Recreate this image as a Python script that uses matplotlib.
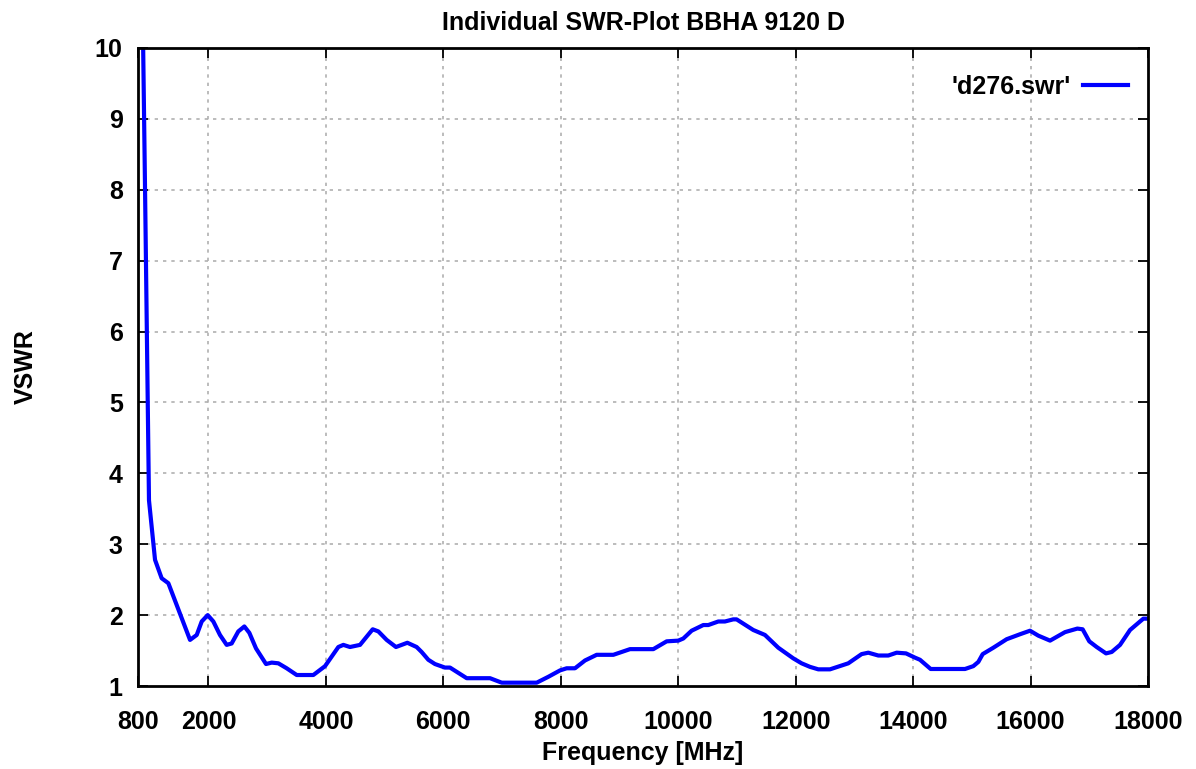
import numpy as np
import matplotlib.pyplot as plt

plt.rcParams['font.family'] = ['Liberation Sans', 'DejaVu Sans']
plt.rcParams['font.weight'] = 'bold'

freq = [880, 920, 987, 1090, 1203, 1317, 1686, 1800, 1885, 1987,
        2083, 2196, 2310, 2395, 2508, 2611, 2696, 2810, 2980, 3077,
        3190, 3332, 3503, 3786, 3985, 4212, 4297, 4410, 4581, 4797,
        4893, 5035, 5193, 5387, 5545, 5630, 5744, 5857, 6027, 6113,
        6398, 6795, 6994, 7590, 7788, 7987, 8100, 8242, 8412, 8611,
        8895, 9179, 9576, 9803, 10001, 10086, 10228, 10427, 10512, 10682,
        10795, 10937, 10994, 11278, 11477, 11704, 11959, 12101, 12244, 12385,
        12584, 12896, 13123, 13237, 13407, 13577, 13720, 13879, 14032, 14117,
        14299, 14884, 15025, 15111, 15185, 15366, 15593, 15820, 15991, 16133,
        16332, 16587, 16797, 16887, 17000, 17126, 17285, 17382, 17524, 17694,
        17864, 17921, 18000]
vswr = [10.5, 8.0, 3.62, 2.78, 2.52, 2.45, 1.65, 1.72, 1.91, 2.0,
        1.91, 1.72, 1.58, 1.60, 1.77, 1.84, 1.75, 1.53, 1.31, 1.33,
        1.32, 1.25, 1.155, 1.155, 1.28, 1.55, 1.58, 1.55, 1.58, 1.80,
        1.77, 1.65, 1.55, 1.61, 1.55, 1.48, 1.37, 1.31, 1.26, 1.26,
        1.11, 1.11, 1.047, 1.047, 1.13, 1.22, 1.25, 1.25, 1.36, 1.44,
        1.44, 1.52, 1.52, 1.63, 1.64, 1.67, 1.78, 1.86, 1.86, 1.91,
        1.91, 1.94, 1.94, 1.79, 1.72, 1.54, 1.39, 1.32, 1.27, 1.235,
        1.235, 1.32, 1.45, 1.47, 1.43, 1.43, 1.47, 1.46, 1.40, 1.37,
        1.24, 1.24, 1.28, 1.34, 1.45, 1.54, 1.66, 1.73, 1.78, 1.71,
        1.64, 1.76, 1.81, 1.80, 1.63, 1.55, 1.46, 1.48, 1.58, 1.79,
        1.91, 1.95, 1.95]

xticks = [800, 2000, 4000, 6000, 8000, 10000, 12000, 14000, 16000, 18000]
yticks = list(range(1, 11))

fig = plt.figure(figsize=(11.96, 7.69), dpi=100)
ax = fig.add_axes([138 / 1196, 1 - 686 / 769, 1010 / 1196, 638 / 769])

ax.plot(freq, vswr, color='#0000ff', lw=3, label="'d276.swr'")

ax.set_xlim(800, 18000)
ax.set_ylim(1, 10)
ax.set_xticks(xticks)
ax.set_yticks(yticks)
ax.tick_params(direction='in', length=7, width=1.3, labelsize=18,
               top=True, right=True)
ax.tick_params(axis='x', pad=17)
ax.tick_params(axis='y', pad=11)
for s in ax.spines.values():
    s.set_linewidth(2)

# grid only inside, not on the borders
for x in xticks[1:-1]:
    ax.axvline(x, color='#b0b0b0', lw=1.2, ls=(0, (2, 3)), zorder=0)
for y in yticks[1:-1]:
    ax.axhline(y, color='#b0b0b0', lw=1.2, ls=(0, (2, 3)), zorder=0)

ax.set_title('Individual SWR-Plot BBHA 9120 D', fontsize=18,
             fontweight='bold', pad=13)
ax.set_xlabel('Frequency [MHz]', fontsize=18, fontweight='bold', labelpad=5)
ax.set_ylabel('VSWR', fontsize=18, fontweight='bold', labelpad=41)

ax.legend(loc='center right', frameon=False, markerfirst=False,
          fontsize=18, handlelength=1.8, handletextpad=0.5,
          borderpad=0, borderaxespad=0,
          bbox_to_anchor=(1128 / 1196, 1 - 87 / 769),
          bbox_transform=fig.transFigure)

plt.savefig('out.png', dpi=100)
